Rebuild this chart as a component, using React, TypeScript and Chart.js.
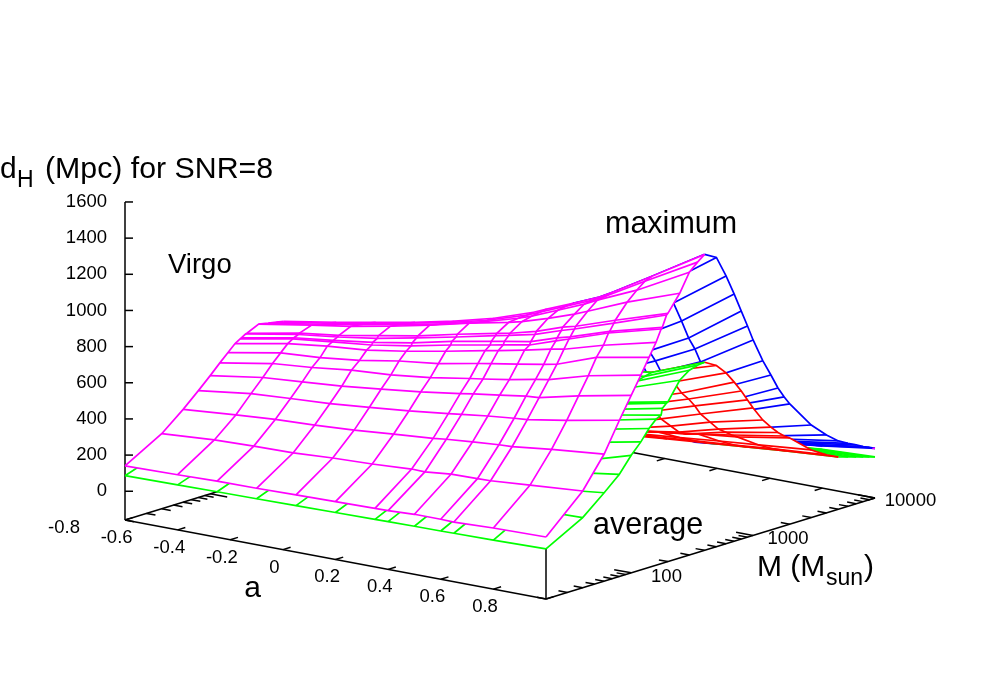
import React, { useEffect, useRef } from "react";
import { Chart, registerables } from "chart.js";

Chart.register(...registerables);

const MAGENTA = "#ff00ff";
const GREEN = "#00ff00";
const BLUE = "#0000ff";
const RED = "#ff0000";
const FONT = '"Liberation Sans", Arial, sans-serif';

// ---- Axis ranges and ticks ----
const aMin = -0.8;
const aMax = 0.8;
const massMin = 20;
const massMax = 10000;
const zFloor = -159;
const zTicks = [0, 200, 400, 600, 800, 1000, 1200, 1400, 1600];
const aTicks = [-0.8, -0.6, -0.4, -0.2, 0, 0.2, 0.4, 0.6, 0.8];
const aTickLabels = ["-0.8", "-0.6", "-0.4", "-0.2", "0", "0.2", "0.4", "0.6", "0.8"];
const massMajor = [100, 1000, 10000];
const massMinor = [20, 30, 40, 50, 60, 70, 80, 90, 200, 300, 400, 500, 600, 700, 800, 900, 2000, 3000, 4000, 5000, 6000, 7000, 8000, 9000];

// ---- Near side of the surfaces: M from 20 to 400 ----
const aFront = [-0.8, -0.6, -0.45, -0.3, -0.15, 0, 0.15, 0.2, 0.3, 0.4, 0.45, 0.6, 0.8];
const massFront = [20, 40, 60, 80, 100, 120, 140, 160, 176, 180, 195, 200, 250, 300, 350, 400];

const virgoMaxFront = [
  [140, 146, 152, 153, 157, 161, 165, 166, 173, 173, 171, 179, 184],
  [256, 276, 283, 287, 299, 307, 320, 318, 333, 335, 337, 354, 376],
  [354, 378, 394, 404, 417, 436, 453, 462, 475, 486, 489, 515, 544],
  [432, 470, 484, 497, 517, 538, 564, 574, 592, 607, 613, 650, 705],
  [495, 539, 556, 573, 598, 623, 655, 667, 687, 709, 715, 765, 823],
  [549, 600, 619, 645, 660, 686, 722, 733, 757, 785, 798, 860, 918],
  [592, 645, 660, 686, 723, 750, 791, 804, 829, 855, 869, 948, 1003],
  [630, 684, 711, 730, 765, 806, 850, 864, 894, 927, 940, 1003, 1074],
  [647, 702, 726, 750, 786, 832, 873, 887, 914, 964, 988, 1062, 1139],
  [651, 706, 733, 763, 801, 850, 891, 905, 930, 979, 998, 1069, 1146],
  [665, 717, 744, 777, 821, 867, 916, 930, 963, 1012, 1034, 1108, 1207],
  [667, 722, 751, 790, 830, 880, 926, 940, 978, 1028, 1047, 1121, 1214],
  [697, 746, 781, 822, 869, 921, 967, 984, 1030, 1080, 1110, 1201, 1305],
  [686, 735, 774, 814, 858, 910, 973, 998, 1058, 1119, 1155, 1251, 1405],
  [678, 727, 768, 809, 853, 907, 976, 1006, 1067, 1127, 1163, 1287, 1447],
  [671, 720, 761, 802, 849, 906, 980, 1011, 1071, 1132, 1173, 1302, 1478],
];

const virgoAvgFront = [
  [86, 90, 93, 95, 98, 101, 104, 105, 107, 108, 109, 112, 118],
  [156, 163, 170, 176, 184, 190, 200, 203, 208, 212, 215, 222, 229],
  [184, 201, 213, 222, 231, 240, 255, 260, 269, 278, 284, 296, 330],
  [225, 247, 261, 272, 283, 294, 312, 319, 330, 341, 348, 363, 406],
  [250, 275, 291, 303, 315, 327, 347, 356, 368, 380, 388, 404, 491],
  [305, 335, 354, 369, 384, 399, 423, 433, 448, 462, 472, 492, 549],
  [341, 374, 396, 413, 429, 446, 473, 484, 501, 517, 528, 550, 609],
  [365, 400, 423, 441, 459, 476, 506, 517, 535, 553, 564, 588, 649],
  [378, 414, 438, 457, 475, 493, 524, 536, 554, 572, 585, 609, 663],
  [396, 434, 459, 479, 498, 517, 549, 561, 581, 600, 612, 638, 698],
  [409, 449, 475, 495, 515, 535, 568, 581, 601, 620, 634, 660, 720],
  [414, 454, 480, 500, 520, 540, 574, 587, 607, 627, 640, 667, 724],
  [450, 493, 522, 544, 566, 587, 624, 638, 660, 682, 696, 725, 824],
  [464, 509, 539, 561, 583, 606, 643, 658, 681, 703, 718, 748, 863],
  [472, 517, 548, 571, 594, 616, 654, 670, 693, 715, 731, 761, 877],
  [478, 524, 555, 578, 601, 625, 663, 678, 702, 725, 740, 771, 881],
];

// ---- Far side of the maximum surface: M from 400 to 10000 ----
const aBackMax = [0.3, 0.4, 0.45, 0.6, 0.8];
const massBackMax = [400, 500, 600, 700, 800, 900, 1000, 1200, 1400, 1600, 1800, 2000, 3000, 4000, 5000, 6000, 7000, 8000, 9000, 10000];
const virgoMaxBack = [
  [1071, 1132, 1173, 1302, 1478],
  [1010, 1075, 1113, 1236, 1441],
  [900, 965, 1000, 1118, 1322],
  [785, 845, 880, 1004, 1208],
  [692, 752, 786, 898, 1102],
  [628, 688, 720, 827, 1009],
  [560, 618, 650, 746, 922],
  [470, 525, 555, 640, 791],
  [400, 456, 486, 566, 698],
  [325, 378, 408, 482, 614],
  [295, 351, 381, 449, 554],
  [262, 315, 344, 407, 506],
  [150, 200, 229, 282, 353],
  [95, 140, 166, 212, 272],
  [70, 110, 134, 175, 219],
  [50, 88, 110, 145, 189],
  [35, 70, 90, 123, 167],
  [22, 55, 73, 103, 146],
  [12, 42, 59, 87, 130],
  [5, 32, 47, 74, 115],
];
const tipA = [0.79, 0.8];
const tipMass = [10000, 10000];
const tipZ = [112, 115];

// ---- Far side of the average surface: M from 400 to 5000 ----
const aBackAvg = [0, 0.15, 0.3, 0.45, 0.6, 0.8];
const massBackAvg = [400, 500, 600, 700, 800, 900, 1000, 1200, 1400, 1600, 1800, 2000, 3000, 4000, 5000];
const virgoAvgBack = [
  [625, 663, 702, 740, 771, 881],
  [420, 540, 618, 687, 755, 843],
  [360, 460, 544, 613, 681, 786],
  [310, 390, 474, 537, 606, 721],
  [270, 340, 429, 493, 561, 660],
  [230, 290, 380, 443, 512, 600],
  [201, 245, 321, 390, 458, 546],
  [183, 224, 282, 334, 397, 463],
  [170, 210, 251, 287, 344, 410],
  [158, 199, 237, 264, 316, 368],
  [147, 188, 224, 254, 289, 338],
  [144, 185, 215, 245, 269, 318],
  [96, 126, 147, 169, 188, 215],
  [59, 84, 103, 121, 140, 162],
  [33, 52, 71, 90, 109, 130],
];

// ---- Tail of the average surface: M from 5000 to 10000 ----
const aTailAvg = [0.3, 0.45, 0.6, 0.8];
const massTailAvg = [5000, 6000, 7000, 8000, 9000, 10000];
const virgoAvgTail = [
  [71, 90, 109, 130],
  [55, 84, 103, 114],
  [41, 70, 89, 100],
  [29, 58, 77, 88],
  [18, 47, 66, 78],
  [8, 37, 56, 68],
];

// ---- Gnuplot-style orthographic view of the box ----
function project(a: number, mass: number, z: number) {
  const u = (a - aMin) / (aMax - aMin);
  const v = (Math.log10(mass) - Math.log10(massMin)) / (Math.log10(massMax) - Math.log10(massMin));
  return {
    x: 125 + 421 * u + 329 * v,
    y: 520 + 79 * u - 101 * v - (z - zFloor) * 0.1808,
  };
}

type Pt = { x: number; y: number };

function lineSet(points: Pt[], color: string, width = 1.7) {
  return {
    data: points,
    showLine: true,
    fill: false,
    borderColor: color,
    borderWidth: width,
    pointRadius: 0,
    tension: 0,
  };
}

function surface(as: number[], masses: number[], table: number[][], color: string) {
  const grid = masses.map((m, r) => as.map((a, c) => project(a, m, table[r][c])));
  const last = grid.length - 1;
  const outline = [
    ...grid[0],
    ...grid.map((row) => row[row.length - 1]),
    ...[...grid[last]].reverse(),
    ...grid.map((row) => row[0]).reverse(),
  ];
  const cover = {
    data: outline,
    showLine: true,
    fill: "shape",
    backgroundColor: "#ffffff",
    borderWidth: 0,
    borderColor: "rgba(0,0,0,0)",
    pointRadius: 0,
    tension: 0,
  };
  const rows = grid.map((row) => lineSet(row, color));
  const cols = as.map((_, c) => lineSet(grid.map((row) => row[c]), color));
  return [cover, ...rows, ...cols];
}

function axes() {
  const sets: any[] = [];
  const black = "#000000";
  const seg = (p: Pt, q: Pt, w = 1.5) => sets.push(lineSet([p, q], black, w));
  // base frame
  seg(project(aMin, massMin, zFloor), project(aMax, massMin, zFloor));
  seg(project(aMax, massMin, zFloor), project(aMax, massMax, zFloor));
  seg(project(aMax, massMax, zFloor), project(aMin, massMax, zFloor));
  seg(project(aMin, massMax, zFloor), project(aMin, massMin, zFloor));
  // vertical axes
  seg(project(aMin, massMin, zFloor), project(aMin, massMin, 1600));
  seg(project(aMax, massMin, zFloor), project(aMax, massMin, 184));
  zTicks.forEach((z) => {
    const p = project(aMin, massMin, z);
    seg(p, { x: p.x + 8, y: p.y });
  });
  // a ticks on near and far edges
  const massStep = 7.7 / 329;
  aTicks.forEach((a) => {
    const near = project(a, massMin, zFloor);
    const nearEnd = project(a, massMin * Math.pow(500, massStep), zFloor);
    seg(near, nearEnd);
    const far = project(a, massMax, zFloor);
    const farEnd = project(a, massMax / Math.pow(500, massStep), zFloor);
    seg(far, farEnd);
  });
  // M ticks on near and far edges
  const tick = (m: number, len: number) => {
    const n = project(aMax, m, zFloor);
    seg(n, { x: n.x - len, y: n.y - (len * 79) / 421 });
    const f = project(aMin, m, zFloor);
    seg(f, { x: f.x + len, y: f.y + (len * 79) / 421 });
  };
  massMinor.forEach((m) => tick(m, 9));
  massMajor.forEach((m) => tick(m, 17));
  return sets;
}

const textPlugin = {
  id: "sceneText",
  afterDraw(chart: any) {
    const ctx = chart.ctx;
    const put = (s: string, x: number, y: number, size: number, align: CanvasTextAlign = "left", base: CanvasTextBaseline = "alphabetic") => {
      ctx.font = `${size}px ${FONT}`;
      ctx.textAlign = align;
      ctx.textBaseline = base;
      ctx.fillStyle = "#000000";
      ctx.fillText(s, x, y);
    };
    ctx.save();
    zTicks.forEach((z) => {
      put(String(z), 107, project(aMin, massMin, z).y, 18.5, "right", "middle");
    });
    aTickLabels.forEach((s, i) => {
      const p = project(aTicks[i], massMin, zFloor);
      put(s, p.x - 61, p.y + 8, 18.5, "center", "middle");
    });
    put("100", 666.5, 577, 18.5, "center", "middle");
    put("1000", 788, 539, 18.5, "center", "middle");
    put("10000", 910.5, 501, 18.5, "center", "middle");
    put("a", 252.5, 597, 30, "center");
    put("M (M", 757, 576, 30);
    put("sun", 826, 585, 23);
    put(")", 864, 576, 30);
    put("d", 0, 178, 30);
    put("H", 17, 187, 23);
    put("(Mpc) for SNR=8", 45, 178, 30.3);
    put("Virgo", 168, 273, 27.5);
    put("maximum", 605, 233, 30.5);
    put("average", 593, 534, 30.5);
    ctx.restore();
  },
};

export default function App() {
  const ref = useRef<HTMLCanvasElement | null>(null);
  useEffect(() => {
    if (!ref.current) return;
    const tip = tipA.map((a, i) => project(a, tipMass[i], tipZ[i]));
    const layers: any[] = [
      ...axes(),
      ...surface(aBackMax, massBackMax, virgoMaxBack, BLUE),
      lineSet(tip, MAGENTA),
      ...surface(aTailAvg, massTailAvg, virgoAvgTail, GREEN),
      ...surface(aBackAvg, massBackAvg, virgoAvgBack, RED),
      ...surface(aFront, massFront, virgoAvgFront, GREEN),
      ...surface(aFront, massFront, virgoMaxFront, MAGENTA),
    ];
    layers.forEach((d, i) => {
      d.order = -i;
    });
    const chart = new Chart(ref.current, {
      type: "scatter",
      data: { datasets: layers },
      options: {
        animation: false,
        responsive: false,
        layout: { padding: 0 },
        plugins: { legend: { display: false }, tooltip: { enabled: false }, title: { display: false } },
        scales: {
          x: { type: "linear", min: 0, max: 1000, display: false },
          y: { type: "linear", min: 0, max: 700, reverse: true, display: false },
        },
      },
      plugins: [textPlugin],
    } as any);
    return () => chart.destroy();
  }, []);
  return (
    <div style={{ position: "fixed", left: 0, top: 0, width: 1000, height: 700, background: "#fff" }}>
      <canvas ref={ref} width={1000} height={700} style={{ display: "block" }} />
    </div>
  );
}
